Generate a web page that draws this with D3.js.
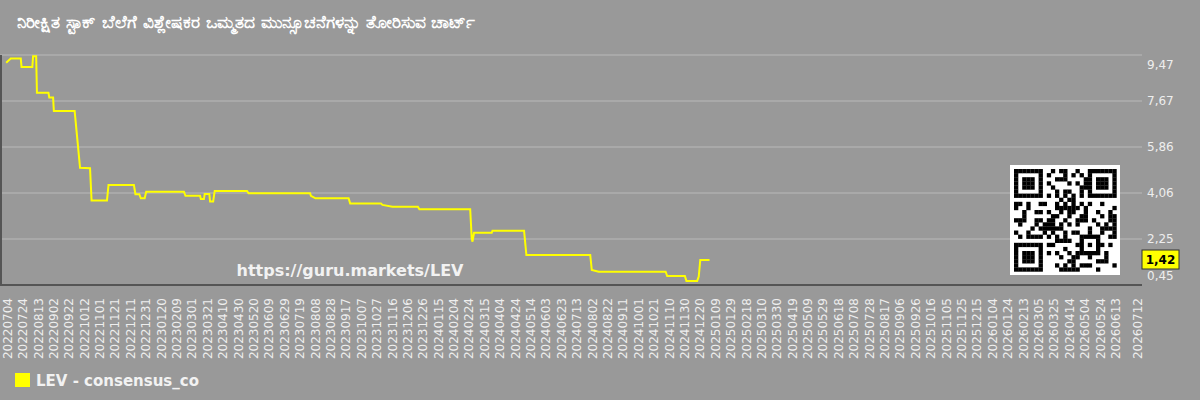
<!DOCTYPE html>
<html>
<head>
<meta charset="utf-8">
<script src="https://cdn.jsdelivr.net/npm/d3@7"></script>
<style>
  body { margin: 0; background: #999999; }
  svg { display: block; font-family: "DejaVu Sans", sans-serif; }
</style>
</head>
<body>
<svg id="chart" width="1200" height="400"></svg>
<script>
// chart data
const titleText = "ನಿರೀಕ್ಷಿತ ಸ್ಟಾಕ್ ಬೆಲೆಗೆ ವಿಶ್ಲೇಷಕರ ಒಮ್ಮತದ ಮುನ್ಸೂಚನೆಗಳನ್ನು ತೋರಿಸುವ ಚಾರ್ಟ್";
const seriesName = "LEV - consensus_co";
const watermark = "https://guru.markets/LEV";
const lastLabel = "1,42";

const dates = [
  "20220703", "20220709", "20220722", "20220723", "20220806", "20220807",
  "20220811", "20220812", "20220827", "20220828", "20220902", "20220903",
  "20220930", "20221007", "20221020", "20221022", "20221111", "20221113",
  "20221216", "20221218", "20221223", "20221225", "20221230", "20230101",
  "20230219", "20230221", "20230312", "20230313", "20230317", "20230318",
  "20230324", "20230325", "20230329", "20230331", "20230512", "20230514",
  "20230802", "20230803", "20230809", "20230921", "20230923", "20231102",
  "20231104", "20231117", "20231220", "20231222", "20240226", "20240228",
  "20240229", "20240302", "20240325", "20240326", "20240506", "20240509",
  "20240731", "20240802", "20240811", "20241106", "20241108", "20241201",
  "20241203", "20241217", "20241219", "20241221", "20250102"
];
const values = [
  9.17, 9.33, 9.33, 9.00, 9.00, 9.42,
  9.42, 7.99, 7.99, 7.80, 7.80, 7.27,
  7.27, 5.05, 5.03, 3.76, 3.76, 4.37,
  4.37, 4.01, 4.01, 3.85, 3.85, 4.11,
  4.11, 3.95, 3.95, 3.82, 3.82, 4.02,
  4.02, 3.72, 3.72, 4.14, 4.14, 4.05,
  4.05, 3.95, 3.85, 3.85, 3.65, 3.65,
  3.59, 3.52, 3.52, 3.42, 3.42, 2.28,
  2.15, 2.50, 2.50, 2.58, 2.58, 1.63,
  1.63, 1.04, 0.97, 0.97, 0.80, 0.80,
  0.61, 0.61, 0.78, 1.43, 1.43
];

const yTicks = [0.45, 2.25, 4.06, 5.86, 7.67, 9.47];
const xTickLabels = [
  "20220704", "20220724", "20220813", "20220902", "20220922", "20221012",
  "20221101", "20221121", "20221211", "20221231", "20230120", "20230209",
  "20230301", "20230321", "20230410", "20230430", "20230520", "20230609",
  "20230629", "20230719", "20230808", "20230828", "20230917", "20231007",
  "20231027", "20231116", "20231206", "20231226", "20240115", "20240204",
  "20240224", "20240315", "20240404", "20240424", "20240514", "20240603",
  "20240623", "20240713", "20240802", "20240822", "20240911", "20241001",
  "20241021", "20241110", "20241130", "20241220", "20250109", "20250129",
  "20250218", "20250310", "20250330", "20250419", "20250509", "20250529",
  "20250618", "20250708", "20250728", "20250817", "20250906", "20250926",
  "20251016", "20251105", "20251125", "20251215", "20260104", "20260124",
  "20260213", "20260305", "20260325", "20260414", "20260504", "20260524",
  "20260613", "20260712"
];

const parse = d3.timeParse("%Y%m%d");
const fmt = d3.timeFormat("%Y%m%d");
const data = dates.map((d, i) => ({ date: parse(d), value: values[i] }));

const svg = d3.select("#chart");
const plot = { left: 0, right: 1142, top: 55, bottom: 285 };

const x = d3.scaleTime()
  .domain([parse("20220625"), parse("20260718")])
  .range([plot.left, plot.right]);
const y = d3.scaleLinear()
  .domain([yTicks[0], yTicks[yTicks.length - 1]])
  .range([plot.bottom, plot.top]);

// title
svg.append("text")
  .attr("x", 17)
  .attr("y", 28)
  .attr("fill", "#ffffff")
  .attr("font-size", 17)
  .attr("font-weight", "bold")
  .text(titleText);

// grid lines
svg.append("g")
  .selectAll("line")
  .data(yTicks)
  .enter()
  .append("line")
  .attr("x1", plot.left)
  .attr("x2", plot.right)
  .attr("y1", d => y(d))
  .attr("y2", d => y(d))
  .attr("stroke", "#a9a9a9")
  .attr("stroke-width", 2);

// right y axis labels
const yAxis = d3.axisRight(y)
  .tickValues(yTicks)
  .tickSize(0)
  .tickPadding(5)
  .tickFormat(d => d3.format(".2f")(d).replace(".", ","));
const gy = svg.append("g")
  .attr("transform", `translate(${plot.right}, 0)`)
  .call(yAxis);
gy.select(".domain").remove();
gy.selectAll("text")
  .attr("fill", "#eeeeee")
  .attr("font-size", 12)
  .attr("font-family", "DejaVu Sans")
  .attr("dy", (d, i) => (i === yTicks.length - 1 ? "1.15em" : i === 0 ? "-0.45em" : "0.32em"));

// bottom x axis labels
const xAxis = d3.axisBottom(x)
  .tickValues(xTickLabels.map(parse))
  .tickSize(0)
  .tickFormat(fmt);
const gx = svg.append("g")
  .attr("transform", `translate(0, ${plot.bottom})`)
  .call(xAxis);
gx.select(".domain").remove();
gx.selectAll("text")
  .attr("fill", "#eeeeee")
  .attr("font-size", 12)
  .attr("font-family", "DejaVu Sans")
  .attr("text-anchor", "end")
  .attr("transform", "rotate(-90)")
  .attr("x", -13)
  .attr("y", 0)
  .attr("dy", "0.36em");

// axis lines
svg.append("line")
  .attr("x1", plot.left + 1).attr("x2", plot.left + 1)
  .attr("y1", plot.top).attr("y2", plot.bottom)
  .attr("stroke", "#555555").attr("stroke-width", 2);
svg.append("line")
  .attr("x1", plot.left).attr("x2", plot.right)
  .attr("y1", plot.bottom).attr("y2", plot.bottom)
  .attr("stroke", "#555555").attr("stroke-width", 2);

// watermark
svg.append("text")
  .attr("x", 350)
  .attr("y", 276)
  .attr("text-anchor", "middle")
  .attr("fill", "#f2f2f2")
  .attr("font-size", 16)
  .attr("font-weight", "bold")
  .text(watermark);

// the series line
svg.append("path")
  .datum(data)
  .attr("fill", "none")
  .attr("stroke", "#ffff00")
  .attr("stroke-width", 2)
  .attr("d", d3.line().x(d => x(d.date)).y(d => y(d.value)));

// qr-like block (decoration)
const qrN = 25, qrCell = 4.1;
const qrX = 1010, qrY = 165;
svg.append("rect")
  .attr("x", qrX).attr("y", qrY)
  .attr("width", 110).attr("height", 110)
  .attr("fill", "#ffffff");
const finder = (r, c, r0, c0) => {
  const rr = r - r0, cc = c - c0;
  if (rr < 0 || rr > 6 || cc < 0 || cc > 6) return null;
  if (rr === 0 || rr === 6 || cc === 0 || cc === 6) return true;
  if (rr >= 2 && rr <= 4 && cc >= 2 && cc <= 4) return true;
  return false;
};
const cells = [];
for (let r = 0; r < qrN; r++) {
  for (let c = 0; c < qrN; c++) {
    let on = null;
    for (const [r0, c0] of [[0, 0], [0, qrN - 7], [qrN - 7, 0]]) {
      const f = finder(r, c, r0, c0);
      if (f !== null) on = f;
    }
    if (on === null) {
      if ((r === 7 && (c < 8 || c > qrN - 9)) || (c === 7 && (r < 8 || r > qrN - 9)) || (r === qrN - 8 && c < 8)) on = false;
      else if (r >= 16 && r <= 20 && c >= 16 && c <= 20) {
        on = (r === 16 || r === 20 || c === 16 || c === 20 || (r === 18 && c === 18));
      } else if (r === 6) on = c % 2 === 0;
      else if (c === 6) on = r % 2 === 0;
      else on = ((r * 7 + c * 13 + ((r * c) % 5)) % 3) === 0 || ((r + 2 * c) % 7 === 1);
    }
    if (on) cells.push([r, c]);
  }
}
svg.append("g")
  .selectAll("rect")
  .data(cells)
  .enter()
  .append("rect")
  .attr("x", d => qrX + 4 + d[1] * qrCell)
  .attr("y", d => qrY + 4 + d[0] * qrCell)
  .attr("width", qrCell + 0.2)
  .attr("height", qrCell + 0.2)
  .attr("fill", "#000000");

// last value flag
const last = data[data.length - 1];
svg.append("rect")
  .attr("x", plot.right)
  .attr("y", y(last.value) - 10)
  .attr("width", 37)
  .attr("height", 19)
  .attr("fill", "#ffff00")
  .attr("stroke", "#333333")
  .attr("stroke-width", 1);
svg.append("text")
  .attr("x", plot.right + 18.5)
  .attr("y", y(last.value) + 4)
  .attr("text-anchor", "middle")
  .attr("font-size", 12)
  .attr("font-weight", "bold")
  .attr("fill", "#000000")
  .text(lastLabel);

// legend
svg.append("rect")
  .attr("x", 15).attr("y", 373)
  .attr("width", 15).attr("height", 14)
  .attr("fill", "#ffff00");
svg.append("text")
  .attr("x", 36).attr("y", 386)
  .attr("fill", "#f2f2f2")
  .attr("font-size", 15)
  .attr("font-weight", "bold")
  .text(seriesName);
</script>
</body>
</html>
